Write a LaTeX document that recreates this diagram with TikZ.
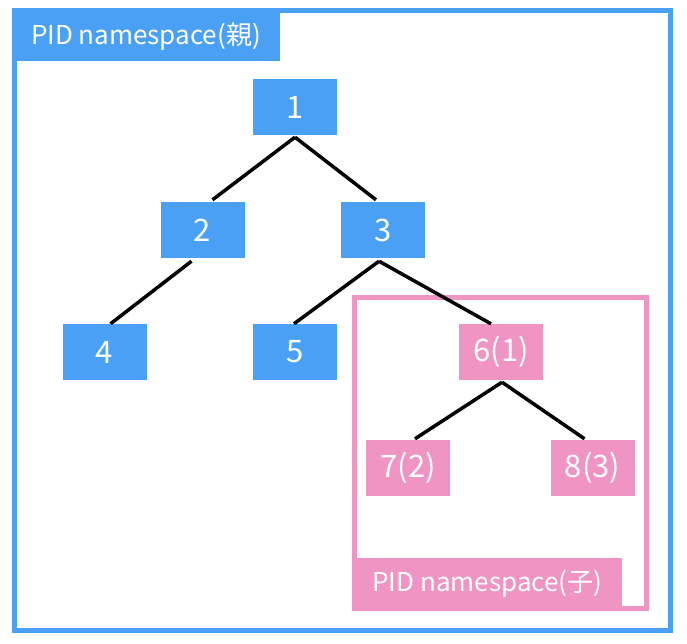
\documentclass[tikz,border=0pt]{standalone}
\usepackage{fontspec}
\setmainfont{Noto Sans CJK JP}
\usepackage{tikz}
\usetikzlibrary{calc}
\definecolor{nsblu}{RGB}{74,160,245}
\definecolor{nsrosa}{RGB}{240,148,196}
\tikzset{
    proc/.style = {fill = nsblu, text = white, minimum width = 84pt, minimum height = 56pt, inner sep = 0pt, font = \fontsize{31}{31}\selectfont},
    procfiglio/.style = {proc, fill = nsrosa},
    etichetta/.style = {text = white, anchor = west, font = \fontsize{26}{26}\selectfont},
    ramo/.style = {line width = 3.5pt}
}

\begin{document}
\begin{tikzpicture}[x = 1pt, y = -1pt]
    % Bordo
    \useasboundingbox (0,0) rectangle (687,644);
    % Namespace padre
    \draw[nsblu, line width = 5pt] (14.5,10.5) rectangle (670.5,630);
    \fill[nsblu] (12,8) rectangle (280,61);
    \node[etichetta] (lpadre) at (27.5,37) {PID namespace(親)};
    % Namespace figlio
    \draw[nsrosa, line width = 5pt] (354.5,297.5) rectangle (646.5,608.5);
    \fill[nsrosa] (352,558) rectangle (622,611);
    \node[etichetta] (lfiglio) at (369,584) {PID namespace(子)};
    % Processi
    \node[proc] (p1) at (295,107) {1};
    \node[proc] (p2) at (202.5,230) {2};
    \node[proc] (p3) at (383,230) {3};
    \node[proc] (p4) at (104.5,352) {4};
    \node[proc] (p5) at (295,352) {5};
    \node[procfiglio] (p6) at (501,352) {6(1)};
    \node[procfiglio] (p7) at (408,468) {7(2)};
    \node[procfiglio] (p8) at (592.5,468) {8(3)};
    % Rami
    \draw[ramo] ($(p1.south)+(0,2)$) -- ($(p2.north)+(10,-2)$);
    \draw[ramo] ($(p1.south)+(0,2)$) -- ($(p3.north)+(-7,-2)$);
    \draw[ramo] ($(p2.south)+(-11,3)$) -- ($(p4.north)+(6,0)$);
    \draw[ramo] ($(p3.south)+(-4,3)$) -- ($(p5.north)+(-1,0)$);
    \draw[ramo] ($(p3.south)+(-4,3)$) -- ($(p6.north)+(-10,0)$);
    \draw[ramo] ($(p6.south)+(1,2)$) -- ($(p7.north)+(7,-1)$);
    \draw[ramo] ($(p6.south)+(1,2)$) -- ($(p8.north)+(-8,-1)$);
\end{tikzpicture}
\end{document}
